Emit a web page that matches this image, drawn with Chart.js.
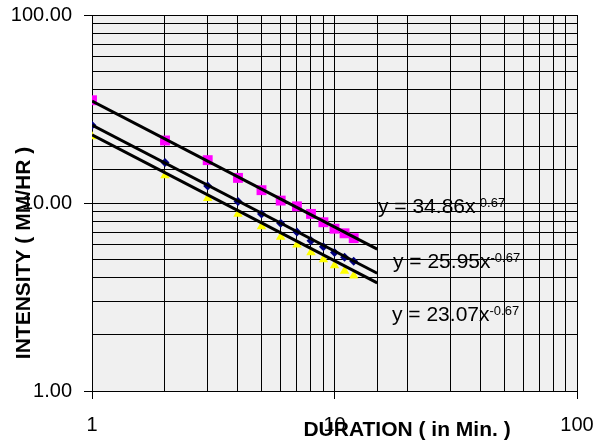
<!DOCTYPE html>
<html>
<head>
<meta charset="utf-8">
<script src="https://cdn.jsdelivr.net/npm/chart.js@4.4.0/dist/chart.umd.min.js"></script>
<style>
  html, body { margin: 0; padding: 0; background: #fff; }
  canvas { display: block; }
</style>
</head>
<body>
<canvas id="chart" width="597" height="440"></canvas>
<script>
// durasi (menit) dan intensitas dari gambar
const durations = [1, 2, 3, 4, 5, 6, 7, 8, 9, 10, 11, 12];
const intensityA = [35.2, 21.5, 16.9, 13.6, 11.7, 10.3, 9.6, 8.75, 7.9, 7.3, 6.9, 6.5];   // magenta
const intensityB = [25.9, 16.4, 12.3, 10.2, 8.75, 7.8, 7.0, 6.3, 5.85, 5.45, 5.15, 4.9];  // biru tua
const intensityC = [22.6, 14.0, 10.6, 8.75, 7.5, 6.6, 6.0, 5.45, 5.0, 4.65, 4.35, 4.1];   // kuning

// ujung garis trend (power)
const trendX = [1, 15];
const trendA = [34.86, 5.68];
const trendB = [25.95, 4.23];
const trendC = [23.07, 3.76];

const equations = ["y = 34.86x", "y = 25.95x", "y = 23.07x"];
const exponent = "-0.67";

const FONT = '"Liberation Sans", Arial, sans-serif';

function toPoints(xs, ys) {
    return xs.map((x, i) => ({ x: x, y: ys[i] }));
}

function isDecade(v) {
    const l = Math.log10(v);
    return Math.abs(l - Math.round(l)) < 1e-9;
}

// background abu-abu + teks tambahan
const decorations = {
    id: "decorations",
    beforeDraw(chart) {
        const { ctx, chartArea: a } = chart;
        ctx.save();
        ctx.fillStyle = "#f0f0f0";
        ctx.fillRect(a.left, a.top, a.right - a.left, a.bottom - a.top);
        ctx.restore();
    },
    afterDraw(chart) {
        const ctx = chart.ctx;
        ctx.save();
        ctx.fillStyle = "#000";
        ctx.textBaseline = "middle";
        ctx.textAlign = "left";

        // persamaan trend
        const eqPos = [[378, 207], [393, 262], [392, 315]];
        equations.forEach((eq, i) => {
            const [x, y] = eqPos[i];
            ctx.font = "21px " + FONT;
            ctx.fillText(eq, x, y);
            const w = ctx.measureText(eq).width;
            ctx.font = "13px " + FONT;
            ctx.fillText(exponent, x + w, y - 4);
        });

        // judul sumbu
        ctx.font = "bold 21px " + FONT;
        ctx.textAlign = "center";
        ctx.fillText("DURATION ( in Min. )", 407, 430);

        ctx.translate(24, 253);
        ctx.rotate(-Math.PI / 2);
        ctx.fillText("INTENSITY ( MM/HR )", 0, 0);
        ctx.restore();
    }
};

function majorTickColor(context) {
    return context.tick && isDecade(context.tick.value) ? "#000" : "rgba(0,0,0,0)";
}

new Chart(document.getElementById("chart"), {
    type: "scatter",
    data: {
        datasets: [
            { data: toPoints(trendX, trendA), showLine: true, borderColor: "#000", borderWidth: 3, pointRadius: 0, order: 0 },
            { data: toPoints(trendX, trendB), showLine: true, borderColor: "#000", borderWidth: 3, pointRadius: 0, order: 0 },
            { data: toPoints(trendX, trendC), showLine: true, borderColor: "#000", borderWidth: 3, pointRadius: 0, order: 0 },
            { data: toPoints(durations, intensityA), pointStyle: "rect", pointRadius: 7, backgroundColor: "#ff00ff", borderColor: "#ff00ff", borderWidth: 0, order: 1 },
            { data: toPoints(durations, intensityB), pointStyle: "rectRot", pointRadius: 4.5, backgroundColor: "#000080", borderColor: "#000080", borderWidth: 0, order: 1 },
            { data: toPoints(durations, intensityC), pointStyle: "triangle", pointRadius: 5.5, backgroundColor: "#ffff00", borderColor: "#ffff00", borderWidth: 0, order: 1 }
        ]
    },
    options: {
        responsive: false,
        animation: false,
        devicePixelRatio: 1,
        layout: { padding: { top: 15, right: 20, left: 0, bottom: 0 } },
        plugins: { legend: { display: false }, tooltip: { enabled: false } },
        scales: {
            x: {
                type: "logarithmic",
                min: 1,
                max: 100,
                afterFit(scale) {
                    scale.height = 49;
                    scale.paddingLeft = 0;
                    scale.paddingRight = 0;
                },
                border: { color: "#000", width: 1 },
                grid: { color: "#000", lineWidth: 1, tickLength: 8, tickColor: majorTickColor },
                ticks: {
                    autoSkip: false,
                    maxRotation: 0,
                    padding: 14,
                    color: "#000",
                    font: { family: FONT, size: 20 },
                    callback: v => isDecade(v) ? String(v) : ""
                }
            },
            y: {
                type: "logarithmic",
                min: 1,
                max: 100,
                afterFit(scale) {
                    scale.width = 92;
                    scale.paddingTop = 0;
                    scale.paddingBottom = 0;
                },
                border: { color: "#000", width: 1 },
                grid: { color: "#000", lineWidth: 1, tickLength: 8, tickColor: majorTickColor },
                ticks: {
                    autoSkip: false,
                    padding: 12,
                    color: "#000",
                    font: { family: FONT, size: 20 },
                    callback: v => isDecade(v) ? Number(v).toFixed(2) : ""
                }
            }
        }
    },
    plugins: [decorations]
});
</script>
</body>
</html>
